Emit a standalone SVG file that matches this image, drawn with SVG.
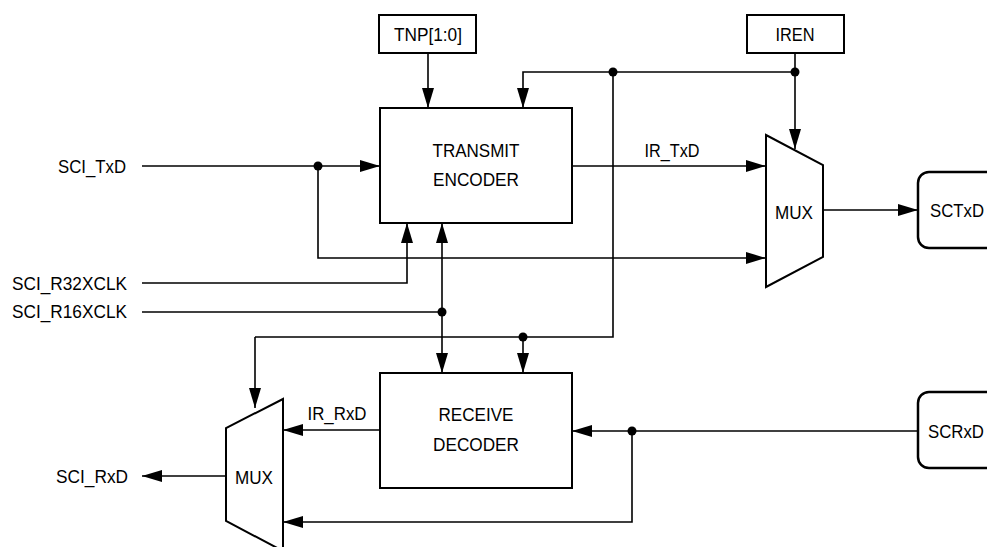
<svg xmlns="http://www.w3.org/2000/svg" width="987" height="547" viewBox="0 0 987 547">
<defs>
<marker id="arr" viewBox="0 0 20 12" refX="20" refY="6" markerWidth="20" markerHeight="12" markerUnits="userSpaceOnUse" orient="auto">
<path d="M0,0 L20,6 L0,12 Z" fill="#000"/>
</marker>
</defs>
<style>
text{font-family:"Liberation Sans",Arial,sans-serif;font-size:19px;fill:#000}
.box{fill:#fff;stroke:#000;stroke-width:2}
.io{fill:#fff;stroke:#000;stroke-width:2.5}
.w{fill:none;stroke:#000;stroke-width:1.6}
.a{fill:none;stroke:#000;stroke-width:1.6;marker-end:url(#arr)}
.dot{fill:#000}
</style>
<rect width="987" height="547" fill="#fff"/>
<g id="connectors">
<path class="a" d="M428,53 V108"/>
<path class="a" d="M613,72 H523 V108"/>
<path class="w" d="M613,72 H795"/>
<path class="w" d="M613,72 V337 H255"/>
<path class="a" d="M255,337 V408"/>
<path class="a" d="M523,337 V373"/>
<path class="a" d="M795,53 V149"/>
<path class="a" d="M572,166 H766"/>
<path class="a" d="M142,166 H380"/>
<path class="a" d="M318,166 V258 H766"/>
<path class="a" d="M823,210 H918"/>
<path class="a" d="M142,283 H407 V223"/>
<path class="w" d="M142,312 H442"/>
<path class="a" d="M442,300 V223"/>
<path class="a" d="M442,300 V373"/>
<path class="a" d="M380,430 H283"/>
<path class="a" d="M918,431 H572"/>
<path class="a" d="M632,431 V522 H283"/>
<path class="a" d="M226,476 H142"/>
<circle class="dot" cx="613" cy="72" r="4.5"/>
<circle class="dot" cx="795" cy="72" r="4.5"/>
<circle class="dot" cx="318" cy="166" r="4.5"/>
<circle class="dot" cx="442" cy="312" r="4.5"/>
<circle class="dot" cx="523" cy="337" r="4.5"/>
<circle class="dot" cx="632" cy="431" r="4.5"/>
</g>
<g id="tnp">
<rect class="box" x="379" y="15" width="97" height="38"/>
<text x="428" y="41" text-anchor="middle" textLength="68" lengthAdjust="spacingAndGlyphs">TNP[1:0]</text>
</g>
<g id="iren">
<rect class="box" x="747" y="15" width="97" height="38"/>
<text x="795" y="41" text-anchor="middle" textLength="39" lengthAdjust="spacingAndGlyphs">IREN</text>
</g>
<g id="transmit-encoder">
<rect class="box" x="380" y="108" width="192" height="115"/>
<text x="476" y="157" text-anchor="middle" textLength="87" lengthAdjust="spacingAndGlyphs">TRANSMIT</text>
<text x="476" y="186" text-anchor="middle" textLength="86" lengthAdjust="spacingAndGlyphs">ENCODER</text>
</g>
<g id="receive-decoder">
<rect class="box" x="380" y="373" width="192" height="115"/>
<text x="476" y="421" text-anchor="middle" textLength="75" lengthAdjust="spacingAndGlyphs">RECEIVE</text>
<text x="476" y="451" text-anchor="middle" textLength="86" lengthAdjust="spacingAndGlyphs">DECODER</text>
</g>
<g id="tx-mux">
<path class="box" d="M766,135 L823,165 V257 L766,287 Z"/>
<text x="794" y="219" text-anchor="middle" textLength="38" lengthAdjust="spacingAndGlyphs">MUX</text>
</g>
<g id="rx-mux">
<path class="box" d="M283,399 L226,428 V521 L283,551 Z"/>
<text x="254" y="484" text-anchor="middle" textLength="38" lengthAdjust="spacingAndGlyphs">MUX</text>
</g>
<g id="sctxd">
<rect class="io" x="918" y="172" width="90" height="76" rx="11"/>
<text x="930" y="217" textLength="54" lengthAdjust="spacingAndGlyphs">SCTxD</text>
</g>
<g id="scrxd">
<rect class="io" x="918" y="392" width="90" height="76" rx="11"/>
<text x="928" y="438" textLength="56" lengthAdjust="spacingAndGlyphs">SCRxD</text>
</g>
<g id="labels">
<text x="126" y="173" text-anchor="end" textLength="68" lengthAdjust="spacingAndGlyphs">SCI_TxD</text>
<text x="127" y="290" text-anchor="end" textLength="115" lengthAdjust="spacingAndGlyphs">SCI_R32XCLK</text>
<text x="127" y="318" text-anchor="end" textLength="115" lengthAdjust="spacingAndGlyphs">SCI_R16XCLK</text>
<text x="128" y="483" text-anchor="end" textLength="72" lengthAdjust="spacingAndGlyphs">SCI_RxD</text>
<text x="672" y="157" text-anchor="middle" textLength="55" lengthAdjust="spacingAndGlyphs">IR_TxD</text>
<text x="337" y="420" text-anchor="middle" textLength="59" lengthAdjust="spacingAndGlyphs">IR_RxD</text>
</g>
</svg>
